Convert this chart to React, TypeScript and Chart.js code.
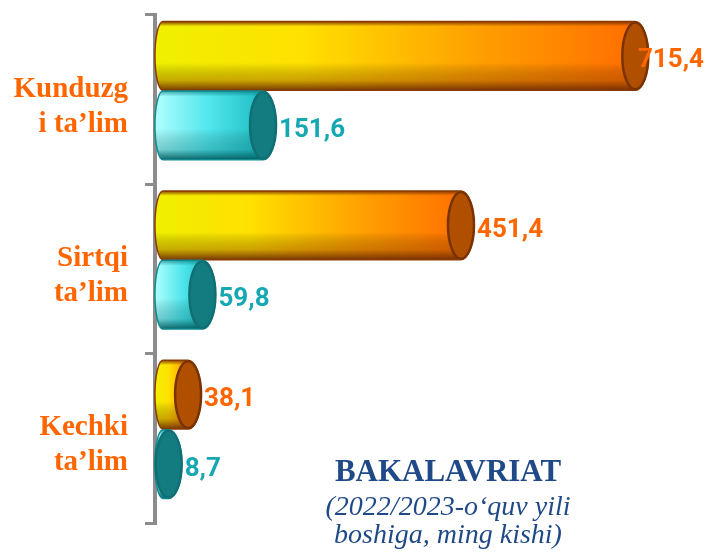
import React, { useEffect, useRef } from "react";
import { Chart, registerables } from "chart.js";

Chart.register(...registerables);

// ---- data ----
const categories: string[][] = [
  ["Kunduzg", "i ta’lim"],
  ["Sirtqi", "ta’lim"],
  ["Kechki", "ta’lim"],
];
const bakalavrKunduzgi = [715.4, 451.4, 38.1]; // orange series
const bakalavrCyan = [151.6, 59.8, 8.7]; // cyan series
const titleText = "BAKALAVRIAT";
const subtitleLines = ["(2022/2023-o‘quv yili", "boshiga, ming kishi)"];

// ---- styles ----
const W = 707;
const H = 553;
const CAP_RX = 13;
const LEFT_RX = 8;
const SHIFT_Y = -9;

const palettes = [
  {
    stops: [
      [0, "#F0F000"],
      [0.3, "#FFE000"],
      [0.65, "#FFA000"],
      [1, "#FF6A00"],
    ],
    shade: [
      [0, "rgba(125,50,0,0.9)"],
      [0.07, "rgba(125,50,0,0)"],
      [0.6, "rgba(0,0,0,0)"],
      [0.85, "rgba(120,50,0,0.35)"],
      [1, "rgba(105,40,0,0.9)"],
    ],
    edge: "#8A3A00",
    cap: "#B04F00",
    capEdge: "#7A3300",
    label: "#FF6600",
  },
  {
    stops: [
      [0, "#B0FFFF"],
      [0.45, "#50E6EC"],
      [1, "#12B2BA"],
    ],
    shade: [
      [0, "rgba(0,110,115,0.6)"],
      [0.08, "rgba(0,110,115,0)"],
      [0.55, "rgba(0,0,0,0)"],
      [0.85, "rgba(0,100,105,0.3)"],
      [1, "rgba(0,85,90,0.9)"],
    ],
    edge: "#0E8A90",
    cap: "#137C80",
    capEdge: "#0F6F73",
    label: "#16A8B2",
  },
];

const fmt = (v: number) => v.toFixed(1).replace(".", ",");

const cylinderPlugin = {
  id: "cylinders",
  afterDatasetsDraw(chart: any) {
    const ctx: CanvasRenderingContext2D = chart.ctx;
    chart.data.datasets.forEach((ds: any, di: number) => {
      const meta = chart.getDatasetMeta(di);
      const pal = palettes[di];
      meta.data.forEach((el: any, i: number) => {
        const p = el.getProps(["x", "y", "base", "height"], true);
        const x0 = p.base;
        const x1 = p.x;
        const h = p.height;
        const cy = p.y + SHIFT_Y;
        const top = cy - h / 2;
        const bot = cy + h / 2;
        const ry = h / 2;
        ctx.save();
        // body
        ctx.beginPath();
        ctx.moveTo(x0, top);
        ctx.lineTo(x1, top);
        ctx.ellipse(x1, cy, CAP_RX, ry, 0, -Math.PI / 2, Math.PI / 2, false);
        ctx.lineTo(x0, bot);
        ctx.ellipse(x0, cy, LEFT_RX, ry, 0, Math.PI / 2, (3 * Math.PI) / 2, false);
        ctx.closePath();
        const g = ctx.createLinearGradient(x0 - LEFT_RX, 0, x1 + CAP_RX, 0);
        pal.stops.forEach((s: any) => g.addColorStop(s[0], s[1]));
        ctx.fillStyle = g;
        ctx.fill();
        const v = ctx.createLinearGradient(0, top, 0, bot);
        pal.shade.forEach((s: any) => v.addColorStop(s[0], s[1]));
        ctx.fillStyle = v;
        ctx.fill();
        ctx.lineWidth = 1.5;
        ctx.strokeStyle = pal.edge;
        ctx.stroke();
        // end cap
        ctx.beginPath();
        ctx.ellipse(x1, cy, CAP_RX, ry - 1, 0, 0, Math.PI * 2);
        ctx.fillStyle = pal.cap;
        ctx.fill();
        ctx.lineWidth = 2.5;
        ctx.strokeStyle = pal.capEdge;
        ctx.stroke();
        ctx.restore();
      });
    });
    // value labels
    chart.data.datasets.forEach((ds: any, di: number) => {
      const meta = chart.getDatasetMeta(di);
      const pal = palettes[di];
      meta.data.forEach((el: any, i: number) => {
        const p = el.getProps(["x", "y"], true);
        const text = fmt(ds.data[i]);
        ctx.save();
        ctx.font = 'bold 26px Roboto';
        ctx.fillStyle = pal.label;
        ctx.textBaseline = "middle";
        ctx.textAlign = "left";
        const tw = ctx.measureText(text).width;
        let tx = p.x + CAP_RX + 3;
        if (tx + tw > W - 3) tx = W - 3 - tw;
        ctx.fillText(text, tx, p.y + SHIFT_Y + 5);
        ctx.restore();
      });
    });
  },
};

const titlePlugin = {
  id: "titleBlock",
  afterDraw(chart: any) {
    const ctx: CanvasRenderingContext2D = chart.ctx;
    ctx.save();
    ctx.fillStyle = "#1F4A87";
    ctx.textAlign = "center";
    ctx.textBaseline = "alphabetic";
    ctx.font = 'bold 31px "Liberation Serif"';
    ctx.fillText(titleText, 448, 481);
    ctx.font = 'italic 28px "Liberation Serif"';
    ctx.fillText(subtitleLines[0], 448, 515);
    ctx.fillText(subtitleLines[1], 448, 543);
    ctx.restore();
  },
};

export default function App() {
  const ref = useRef<HTMLCanvasElement | null>(null);
  useEffect(() => {
    document.body.style.margin = "0";
    const canvas = ref.current!;
    const chart = new Chart(canvas, {
      type: "bar",
      data: {
        labels: categories as any,
        datasets: [
          {
            label: "A",
            data: bakalavrKunduzgi,
            backgroundColor: "rgba(0,0,0,0)",
            borderWidth: 0,
            categoryPercentage: 0.82,
            barPercentage: 0.99,
          },
          {
            label: "B",
            data: bakalavrCyan,
            backgroundColor: "rgba(0,0,0,0)",
            borderWidth: 0,
            categoryPercentage: 0.82,
            barPercentage: 0.99,
          },
        ],
      },
      options: {
        indexAxis: "y",
        responsive: false,
        animation: false,
        devicePixelRatio: 1,
        layout: { autoPadding: false, padding: { top: 15, bottom: 30, left: 0, right: 0 } },
        plugins: {
          legend: { display: false },
          tooltip: { enabled: false },
          title: { display: false },
        },
        scales: {
          x: {
            type: "linear",
            min: -12,
            max: 824,
            display: false,
          },
          y: {
            type: "category",
            offset: true,
            grid: {
              offset: true,
              drawOnChartArea: false,
              drawTicks: true,
              tickLength: 10,
              color: "#8C8C8C",
              lineWidth: 3,
            },
            border: { display: true, color: "#8C8C8C", width: 4 },
            ticks: {
              color: "#FF6600",
              padding: 17,
              labelOffset: 7,
              crossAlign: "near",
              font: { family: "Liberation Serif", weight: "bold", size: 29, lineHeight: 1.2 },
            },
            afterFit(scale: any) {
              scale.width = 155;
              scale.paddingTop = 0;
              scale.paddingBottom = 0;
            },
          },
        },
      } as any,
      plugins: [cylinderPlugin, titlePlugin],
    });
    return () => chart.destroy();
  }, []);
  return (
    <div style={{ width: W, height: H, position: "relative", background: "#fff" }}>
      <canvas ref={ref} width={W} height={H} style={{ display: "block" }} />
    </div>
  );
}
